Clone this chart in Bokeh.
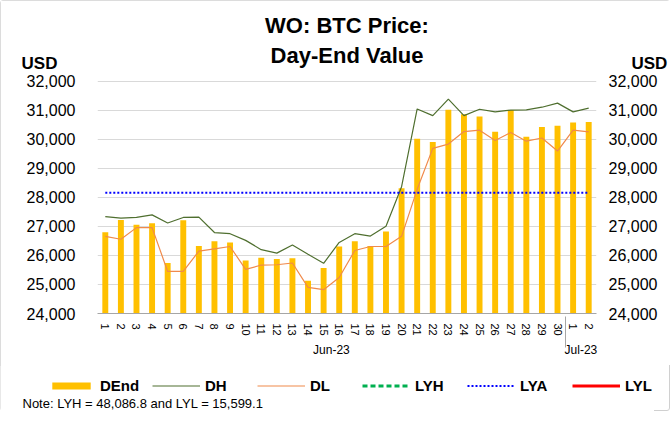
from bokeh.plotting import figure
from bokeh.layouts import column
from bokeh.models import (FactorRange, Range1d, LinearAxis, FixedTicker, NumeralTickFormatter,
                          Legend, LegendItem, Label, ColumnDataSource)
from bokeh.embed import file_html
from bokeh.resources import INLINE

# ---------------- data ----------------
months = ["Jun-23"] * 30 + ["Jul-23"] * 2
days = ["1", "2", "3", "4", "5", "6", "7", "8", "9", "10", "11", "12", "13", "14", "15",
        "16", "17", "18", "19", "20", "21", "22", "23", "24", "25", "26", "27", "28", "29", "30",
        "1", "2"]
dend = [26800, 27220, 27060, 27110, 25740, 27210, 26330, 26490, 26450, 25830, 25920, 25880,
        25900, 25130, 25570, 26310, 26490, 26330, 26830, 28320, 30020, 29910, 31020, 30870,
        30790, 30260, 31010, 30090, 30430, 30470, 30580, 30600]
dh = [27340, 27290, 27310, 27400, 27120, 27310, 27320, 26790, 26750, 26520, 26200, 26080,
      26360, 26040, 25730, 26450, 26750, 26670, 27010, 28370, 31050, 30820, 31390, 30820,
      31040, 30950, 31010, 31020, 31110, 31250, 30950, 31080]
dl = [26660, 26560, 26960, 26960, 25450, 25450, 26150, 26230, 26310, 25520, 25670, 25680,
      25740, 24900, 24820, 25240, 26170, 26310, 26310, 26660, 28280, 29690, 29840, 30270,
      30320, 29960, 30240, 29940, 30050, 29600, 30320, 30260]
lyh = 48086.8
lya = 28160
lyl = 15599.1
y_ticks = [24000, 25000, 26000, 27000, 28000, 29000, 30000, 31000, 32000]
y_min = 24000

title_lines = ["WO: BTC Price:", "Day-End Value"]
unit_text = "USD"
legend_labels = ["DEnd", "DH", "DL", "LYH", "LYA", "LYL"]
note_text = "Note: LYH = 48,086.8 and LYL = 15,599.1"

# ---------------- styles / layout constants ----------------
Y_TOP = 34650          # top of visible value window (title lives above the 32,000 line)
TITLE_Y = [33930, 32900]
UNIT_Y = 32620
FONT = "Liberation Sans"
C_BAR, C_DH, C_DL = "#FFC000", "#4F6F2F", "#F08A4B"
C_LYH, C_LYA, C_LYL = "#00B050", "#0000FF", "#FF0000"

factors = list(zip(months, days))
src = ColumnDataSource(dict(x=factors, dend=dend, dh=dh, dl=dl,
                            lyh=[lyh] * len(factors), lya=[lya] * len(factors),
                            lyl=[lyl] * len(factors)))
xrange = FactorRange(*factors, factor_padding=0, group_padding=0,
                     subgroup_padding=0, range_padding=0)

p = figure(x_range=xrange, y_range=Range1d(y_min, Y_TOP),
           frame_width=499, frame_height=309, title_location=None,
           output_backend="svg", toolbar_location=None,
           min_border_left=97, min_border_right=58, min_border_top=4, min_border_bottom=52)

p.outline_line_color = None
p.xgrid.grid_line_color = None
p.ygrid.grid_line_color = "#d9d9d9"
p.ygrid.grid_line_width = 1
p.ygrid.ticker = FixedTicker(ticks=y_ticks)

# y axes (numbers)
left = p.yaxis[0]
right = LinearAxis()
p.add_layout(right, "right")
for ax, standoff in [(left, 16), (right, 6)]:
    ax.ticker = FixedTicker(ticks=y_ticks)
    ax.formatter = NumeralTickFormatter(format="0,0")
    ax.axis_line_color = None
    ax.major_tick_line_color = None
    ax.minor_tick_line_color = None
    ax.major_label_text_font = FONT
    ax.major_label_text_font_size = "16px"
    ax.major_label_text_color = "#000000"
    ax.major_label_standoff = standoff

# unit axes ("USD")
for side, standoff in [("left", -40), ("right", -35)]:
    ua = LinearAxis(ticker=FixedTicker(ticks=[UNIT_Y]),
                    major_label_overrides={UNIT_Y: unit_text})
    ua.axis_line_color = None
    ua.major_tick_line_color = None
    ua.minor_tick_line_color = None
    ua.major_label_text_font = FONT
    ua.major_label_text_font_size = "17px"
    ua.major_label_text_font_style = "bold"
    ua.major_label_text_color = "#000000"
    ua.major_label_standoff = standoff
    p.add_layout(ua, side)

# x axis
xa = p.xaxis[0]
xa.axis_line_color = "#a6a6a6"
xa.major_tick_line_color = None
xa.minor_tick_line_color = None
xa.major_label_orientation = "vertical"
xa.major_label_text_font = FONT
xa.major_label_text_font_size = "11px"
xa.major_label_text_color = "#000000"
xa.major_label_standoff = 4
xa.group_text_font = FONT
xa.group_text_font_size = "12px"
xa.group_text_font_style = "normal"
xa.group_text_color = "#000000"
xa.separator_line_color = "#a6a6a6"
xa.separator_line_width = 1

# title (inside the plotting frame, above the value grid)
for txt, ty in zip(title_lines, TITLE_Y):
    p.add_layout(Label(x=len(factors) / 2, y=ty, text=txt, text_align="center",
                       text_baseline="middle", text_font=FONT, text_font_size="22px",
                       text_font_style="bold", text_color="#000000"))

# glyphs
def draw_series(fig):
    return [fig.vbar(x="x", top="dend", bottom=y_min, width=0.38, source=src,
                     fill_color=C_BAR, line_color=None),
            fig.line(x="x", y="dh", source=src, line_color=C_DH, line_width=1.2),
            fig.line(x="x", y="dl", source=src, line_color=C_DL, line_width=1.2),
            fig.line(x="x", y="lyh", source=src, line_color=C_LYH, line_width=3, line_dash="5 3"),
            fig.line(x="x", y="lya", source=src, line_color=C_LYA, line_width=2, line_dash="2 2"),
            fig.line(x="x", y="lyl", source=src, line_color=C_LYL, line_width=3)]

draw_series(p)

# ---------------- legend + note strip (same series, value window far away) ----------------
H2 = 46
q = figure(width=654, height=H2, x_range=xrange, y_range=Range1d(H2, 0),
           title_location=None, output_backend="svg", toolbar_location=None,
           min_border=0)
q.axis.visible = False
q.grid.grid_line_color = None
q.outline_line_color = None
g = draw_series(q)

for fig in (p, q):
    if "frame_align" in fig.properties():
        fig.frame_align = False

legend = Legend(items=[LegendItem(label=lab, renderers=[r]) for lab, r in zip(legend_labels, g)],
                orientation="horizontal", location=(47, 16),
                glyph_width=48, glyph_height=9, label_standoff=5, label_width=40,
                label_height=20, spacing=12, padding=0, margin=0, border_line_color=None,
                background_fill_alpha=0,
                label_text_font=FONT, label_text_font_size="15px",
                label_text_font_style="bold", label_text_color="#000000")
q.add_layout(legend)
q.add_layout(Label(x=22, y=38, x_units="screen", text=note_text, text_align="left",
                   text_baseline="middle", text_font=FONT, text_font_size="13px",
                   text_color="#000000"))

layout = column(p, q, spacing=0,
                styles={"outline": "1px solid #d0d0d0", "outline-offset": "-1px",
                        "border-radius": "3px"})
open("out.html", "w").write(file_html(layout, INLINE))
